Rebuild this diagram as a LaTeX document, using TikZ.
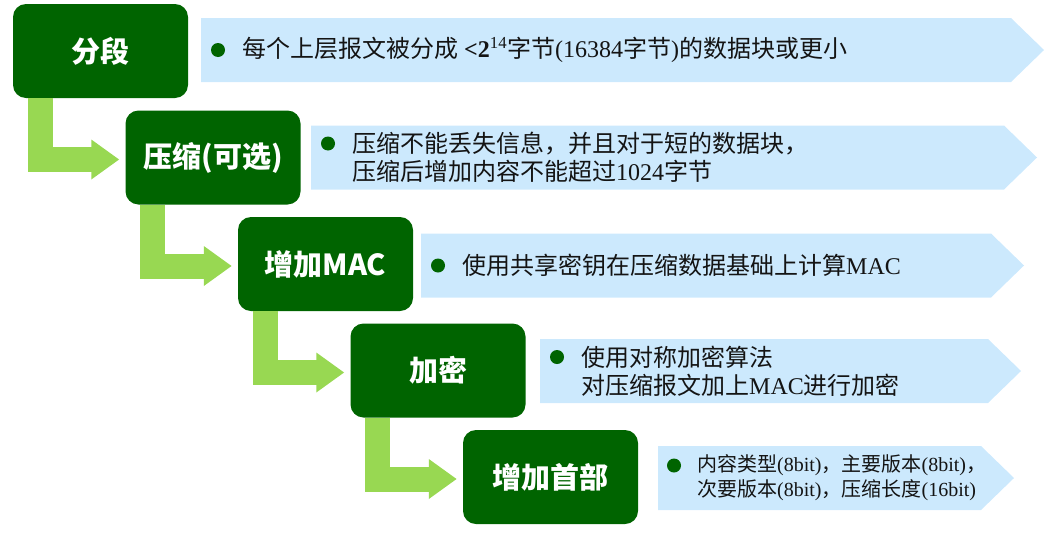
\documentclass[tikz,border=0pt]{standalone}
\usepackage{fontspec}
\setmainfont{Noto Sans CJK SC}
\newfontfamily\latn{Liberation Serif}
\usetikzlibrary{positioning,calc,arrows.meta}
\definecolor{stagegreen}{RGB}{0,100,0}
\definecolor{elbowgreen}{RGB}{152,216,82}
\definecolor{bannerblue}{RGB}{204,233,253}
\definecolor{infotext}{RGB}{20,20,20}
\tikzset{%
  every stage/.style={
    rounded corners=13pt,
    fill=stagegreen,
    text=white,
    minimum width=175pt,
    minimum height=94pt,
    font=\fontsize{29}{34}\selectfont\bfseries
  },
  elbow/.style={
    draw=elbowgreen,
    line width=25pt,
    line join=miter,
    -{Triangle[length=28pt,width=38pt]}
  },
  bullet/.style={
    circle,
    fill=stagegreen,
    inner sep=0pt,
    minimum size=14pt
  },
  info/.style={
    anchor=west,
    align=left,
    inner sep=0pt,
    text=infotext,
    font=\fontsize{24}{28}\selectfont
  },
  small info/.style={
    font=\fontsize{20}{25}\selectfont
  },
}

\begin{document}
\begin{tikzpicture}[x=1pt, y=-1pt]
        \useasboundingbox (0,0) rectangle (1054,533);
        % banners
        \foreach \l/\r/\m in {201/1011/50, 311/1004/157.5, 421/991/265.5, 540/988/371, 658/981/478}
            \fill [bannerblue] (\l,\m-32) -- (\r,\m-32) -- (\r+33,\m) -- (\r,\m+32) -- (\l,\m+32) -- cycle;
        % stages
        \foreach \l [count=\i] in {分段,{压缩(可选)},增加MAC,加密,增加首部}
            \node [every stage] (stage-\i) at ({100.5+112.5*(\i-1)},{51+106.5*(\i-1)}) {\l};
        \foreach \i [evaluate=\i as \j using int(\i+1)] in {1,...,4}
            \draw [elbow] ($(stage-\i.south west)+(27.5,0)$) |- ($(stage-\j.west)+(-6,2)$);

        \node [bullet] (dot-1) at (218,50) {};
        \node [info] (info-1) at (242,50) {每个上层报文被分成\hspace{6pt}{\latn\bfseries <2}{\latn\textsuperscript{14}}字节{\latn (16384}字节{\latn )}的数据块或更小};
        \node [bullet] (dot-2) at (328,143.5) {};
        \node [info] (info-2) at (352,157.5) {压缩不能丢失信息，并且对于短的数据块，\\压缩后增加内容不能超过{\latn 1024}字节};
        \node [bullet] (dot-3) at (438,265.5) {};
        \node [info] (info-3) at (462,265.5) {使用共享密钥在压缩数据基础上计算{\latn MAC}};
        \node [bullet] (dot-4) at (557,357) {};
        \node [info] (info-4) at (581,371) {使用对称加密算法\\对压缩报文加上{\latn MAC}进行加密};
        \node [bullet] (dot-5) at (674,465.5) {};
        \node [info, small info] (info-5) at (697,478) {内容类型{\latn (8bit)}，主要版本{\latn (8bit)}，\\次要版本{\latn (8bit)}，压缩长度{\latn (16bit)}};
\end{tikzpicture}
\end{document}
